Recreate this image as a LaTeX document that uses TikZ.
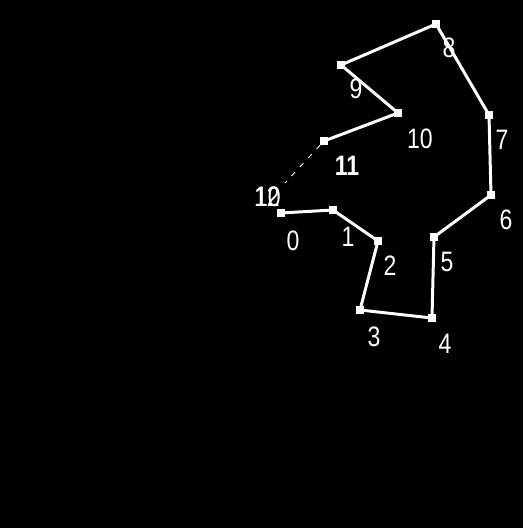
\documentclass[tikz,border=0pt]{standalone}
\usepackage{fontspec}
\setsansfont{Liberation Sans}
\usepackage{tikz}
\usetikzlibrary{positioning}

\begin{document}
\begin{tikzpicture}[
    x=0.02cm, y=-0.02cm,
    vertex/.style={
      fill=white,
      draw=none,
      inner sep=0pt,
      minimum size=0.15cm
    },
    num/.style={
      text=white,
      font=\sffamily\fontsize{16}{18}\selectfont,
      inner sep=0pt,
      xscale=0.82, transform shape
    },
    edge/.style={draw=white, line width=1.7pt},
    open/.style={draw=white, line width=0.5pt, dash pattern=on 3pt off 4pt}
  ]
    \fill[black] (0,0) rectangle (523,528);
    \useasboundingbox (0,0) rectangle (523,528);

    \node[vertex] (v0) at (281,213) {};
    \node[vertex] (v1) at (333,210) {};
    \node[vertex] (v2) at (378,241) {};
    \node[vertex] (v3) at (360,310) {};
    \node[vertex] (v4) at (432,318) {};
    \node[vertex] (v5) at (434,237) {};
    \node[vertex] (v6) at (491,195) {};
    \node[vertex] (v7) at (489,115) {};
    \node[vertex] (v8) at (436,24) {};
    \node[vertex] (v9) at (341,65) {};
    \node[vertex] (v10) at (398,113) {};
    \node[vertex] (v11) at (324,141) {};
    \coordinate (v12) at (285,183);

    \node[num] (l0) at (293,241) {0};
    \node[num] (l1) at (348,237) {1};
    \node[num] (l2) at (390,266) {2};
    \node[num] (l3) at (374,337) {3};
    \node[num] (l4) at (445,344) {4};
    \node[num] (l5) at (447,262) {5};
    \node[num] (l6) at (506,220) {6};
    \node[num] (l7) at (502,140) {7};
    \node[num] (l8) at (449,48) {8};
    \node[num] (l9) at (356,89) {9};
    \node[num] (l10) at (420,139) {10};
    \node[num, font=\sffamily\bfseries\fontsize{16}{18}\selectfont] (l11) at (347,166) {11};
    \node[num] (l12) at (267,197) {12};
    \node[num] (l12b) at (268,197) {10};

    \draw[edge] (v0.center) -- (v1.center) -- (v2.center) -- (v3.center)
      -- (v4.center) -- (v5.center) -- (v6.center) -- (v7.center)
      -- (v8.center) -- (v9.center) -- (v10.center) -- (v11.center);
    \draw[open] (v11) -- (v12);
  \end{tikzpicture}
\end{document}
